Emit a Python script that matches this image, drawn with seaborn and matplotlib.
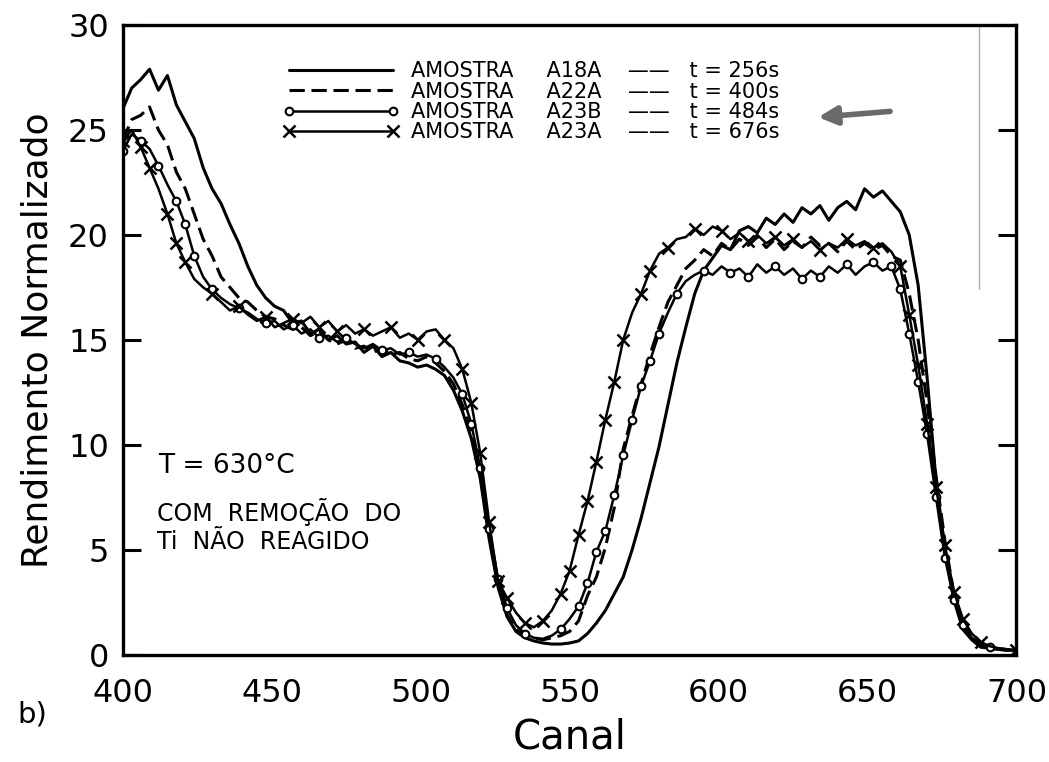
import numpy as np
import pandas as pd
import matplotlib
matplotlib.use("Agg")
import matplotlib.pyplot as plt
import seaborn as sns

# ---------------- data ----------------
canal = list(range(400, 701, 3))

a18a = [26.0, 27.0, 27.4, 27.9, 26.9, 27.6, 26.2, 25.4, 24.6, 23.2,
        22.2, 21.5, 20.5, 19.6, 18.5, 17.6, 17.0, 16.6, 16.4, 15.8,
        15.9, 15.3, 15.5, 15.0, 15.2, 14.8, 14.9, 14.4, 14.7, 14.2,
        14.4, 14.0, 13.9, 13.7, 13.8, 13.6, 13.3, 12.6, 11.6, 10.3,
        8.4, 5.5, 3.2, 1.8, 1.1, 0.8, 0.65, 0.55, 0.5, 0.5,
        0.55, 0.65, 1.0, 1.5, 2.1, 2.9, 3.7, 5.0, 6.5, 8.2,
        9.9, 11.9, 13.9, 15.6, 17.2, 18.3, 18.9, 19.5, 19.3, 20.2,
        20.4, 20.1, 20.8, 20.5, 21.0, 20.6, 21.3, 21.0, 21.4, 20.7,
        21.3, 21.6, 21.2, 22.2, 21.8, 22.1, 21.6, 21.1, 20.0, 17.6,
        13.2, 8.3, 5.0, 2.6, 1.2, 0.7, 0.35, 0.3, 0.25, 0.2,
        0.2]

a22a = [24.5, 25.5, 25.7, 26.1, 25.0, 24.3, 23.0, 22.2, 21.0, 19.8,
        19.0, 18.0, 17.5, 17.0, 16.8, 16.4, 16.1, 16.0, 15.7, 15.5,
        15.6, 15.2, 15.4, 15.0, 14.8, 15.0, 14.6, 14.7, 14.4, 14.6,
        14.3, 14.4, 14.1, 14.0, 14.2, 13.9, 13.5, 12.9, 11.9, 10.6,
        8.6, 5.7, 3.3, 1.9, 1.2, 0.9, 0.8, 0.7, 0.8, 0.9,
        1.1, 1.6, 2.8, 3.7, 5.1, 7.0, 9.8, 11.4, 12.9, 14.3,
        15.6, 16.8, 17.6, 18.4, 18.8, 19.3, 19.0, 19.6, 19.3, 19.8,
        19.5, 19.9, 19.4, 19.8, 19.3, 19.7, 19.4, 19.9, 19.5, 19.6,
        19.2, 19.7, 19.3, 19.6, 19.3, 19.5, 19.0, 18.8, 17.2, 15.0,
        12.0, 8.5, 5.4, 2.9, 1.5, 0.8, 0.45, 0.3, 0.25, 0.2,
        0.2]

a23b = [24.0, 24.8, 24.5, 24.1, 23.3, 22.4, 21.6, 20.5, 19.0, 18.0,
        17.4, 17.0, 16.7, 16.5, 16.3, 16.0, 15.8, 15.9, 15.5, 15.7,
        15.3, 15.5, 15.1, 15.2, 14.9, 15.1, 14.8, 14.6, 14.8, 14.5,
        14.6, 14.3, 14.4, 14.2, 14.3, 14.1, 13.7, 13.2, 12.4, 11.0,
        8.9, 6.0, 3.6, 2.2, 1.4, 1.0, 0.8, 0.75, 0.9, 1.2,
        1.7, 2.3, 3.4, 4.9, 5.9, 7.6, 9.5, 11.2, 12.8, 14.0,
        15.3, 16.3, 17.2, 17.8, 18.1, 18.3, 18.1, 18.5, 18.2, 18.4,
        18.0, 18.6, 18.2, 18.5, 18.1, 18.4, 17.9, 18.3, 18.0, 18.5,
        18.2, 18.6, 18.1, 18.5, 18.7, 18.3, 18.5, 17.4, 15.3, 13.0,
        10.5, 7.5, 4.6, 2.6, 1.4, 0.8, 0.5, 0.35, 0.3, 0.25,
        0.2]

a23a = [24.5, 25.0, 24.2, 23.2, 22.2, 21.0, 19.6, 18.7, 17.9, 17.5,
        17.2, 16.8, 16.4, 16.6, 16.2, 15.9, 16.1, 15.6, 15.8, 16.0,
        15.8, 16.1, 15.6, 15.9, 15.4, 15.7, 15.3, 15.5, 15.2, 15.4,
        15.6, 15.1, 15.3, 15.0, 15.4, 15.5, 15.0, 14.6, 13.6, 12.0,
        9.6, 6.3, 3.5, 2.7, 2.0, 1.5, 1.3, 1.6, 2.1, 2.9,
        4.0, 5.7, 7.3, 9.2, 11.2, 13.0, 15.0, 16.3, 17.2, 18.3,
        19.1, 19.4, 19.8, 19.9, 20.3, 20.0, 20.4, 20.2, 19.8, 20.1,
        19.7, 20.0, 19.6, 19.9, 19.5, 19.8, 19.4, 19.7, 19.3, 19.6,
        19.4, 19.8, 19.5, 19.7, 19.4, 19.6, 19.2, 18.5, 16.2, 13.8,
        11.0, 8.0, 5.2, 3.0, 1.7, 1.0, 0.6, 0.4, 0.3, 0.25,
        0.2]

labels = ["AMOSTRA     A18A    ——   t = 256s",
          "AMOSTRA     A22A    ——   t = 400s",
          "AMOSTRA     A23B    ——   t = 484s",
          "AMOSTRA     A23A    ——   t = 676s"]
x_ticks = [400, 450, 500, 550, 600, 650, 700]
y_ticks = [0, 5, 10, 15, 20, 25, 30]

# ---------------- plotting ----------------
sns.set_style("white")
plt.rcParams['font.family'] = ['DejaVu Sans']
plt.rcParams['text.color'] = 'black'
plt.rcParams['axes.labelcolor'] = 'black'
plt.rcParams['xtick.color'] = 'black'
plt.rcParams['ytick.color'] = 'black'

fig = plt.figure(figsize=(10.49, 7.62), dpi=100)
ax = fig.add_axes([0.117, 0.141, 0.852, 0.826])

df = pd.DataFrame({"canal": canal, "a18a": a18a, "a22a": a22a,
                   "a23b": a23b, "a23a": a23a})

lw = 2.2
sns.lineplot(data=df, x="canal", y="a18a", ax=ax, color="black", lw=lw,
             label=labels[0])
sns.lineplot(data=df, x="canal", y="a22a", ax=ax, color="black", lw=lw,
             label=labels[1])
ax.lines[-1].set_dashes([5, 2.2])
sns.lineplot(data=df, x="canal", y="a23b", ax=ax, color="black", lw=1.8,
             marker="o", markersize=5.5, markerfacecolor="white",
             markeredgecolor="black", markeredgewidth=1.5,
             markevery=0.03, label=labels[2])
sns.lineplot(data=df, x="canal", y="a23a", ax=ax, color="black", lw=1.8,
             marker="x", markersize=8, markeredgewidth=1.8,
             markeredgecolor="black", markevery=0.03, label=labels[3])

# faint vertical scan line at the right
ax.plot([687.3, 687.3], [17.4, 30], color="#b0b0b0", lw=1.0)

ax.set_xlim(400, 700)
ax.set_ylim(0, 30)
ax.set_xticks(x_ticks)
ax.set_yticks(y_ticks)
ax.tick_params(axis="x", direction="out", length=11, width=2.2,
               labelsize=23, pad=6, colors="black")
ax.tick_params(axis="y", direction="in", length=13, width=2.2,
               labelsize=23, pad=10, right=True, left=True, colors="black")
ax.tick_params(axis="y", which="both", labelright=False)
for s in ax.spines.values():
    s.set_linewidth(2.4)
    s.set_color("black")

ax.set_xlabel("Canal", fontsize=29, labelpad=6)
ax.set_ylabel("Rendimento Normalizado", fontsize=26, labelpad=10)

leg = ax.legend(loc="upper left", bbox_to_anchor=(0.163, 0.966),
                frameon=False, fontsize=15, handlelength=5.6,
                handletextpad=0.55, labelspacing=0.02, numpoints=2,
                borderpad=0.2)

ax.text(0.04, 0.30, "T = 630°C", transform=ax.transAxes, fontsize=19,
        ha="left", va="center")
ax.text(0.038, 0.226, "COM  REMOÇÃO  DO", transform=ax.transAxes,
        fontsize=17, ha="left", va="center")
ax.text(0.038, 0.179, "Ti  NÃO  REAGIDO", transform=ax.transAxes,
        fontsize=17, ha="left", va="center")

# hand-drawn arrow pointing at the A23B legend entry
ax.annotate("", xy=(632.5, 25.6), xytext=(658.5, 25.9),
            arrowprops=dict(arrowstyle="-|>,head_length=1.1,head_width=0.55",
                            color="#6a6a6a", lw=4))

fig.text(0.017, 0.062, "b)", fontsize=21, ha="left", va="center")

fig.savefig("out.png", dpi=100, facecolor="white")
